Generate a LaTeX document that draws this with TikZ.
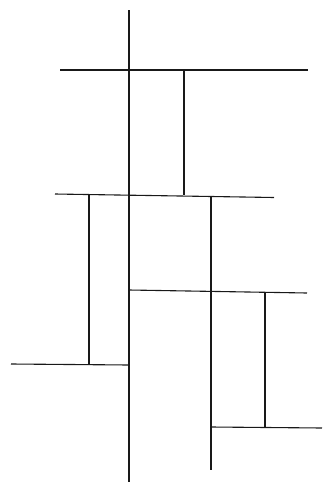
\documentclass[tikz,border=0pt]{standalone}
\usepackage{tikz}
\begin{document}
\begin{tikzpicture}[
    x=1pt,y=-1pt,
    spine/.style={draw=black!90,line width=1.7pt},
    bar/.style={draw=black!90,line width=1.1pt}
  ]
  \useasboundingbox (0,0) rectangle (324,483);
  % Main stem
  \draw[spine] (129,10) -- (129,482);
  % Top tier
  \draw[bar] (60,70) -- (308,70);
  \draw[bar] (184,71) -- (184,195);
  % Second tier
  \draw[bar] (55,194) -- (274,197.5);
  \draw[bar] (89,195) -- (89,365);
  \draw[bar] (11,364) -- (129,365);
  % Third tier
  \draw[bar] (129,290) -- (307,293);
  \draw[bar] (211,197) -- (211,470);
  \draw[bar] (265,292.5) -- (265,428);
  % Bottom tier
  \draw[bar] (211,427) -- (322,428);
\end{tikzpicture}
\end{document}
